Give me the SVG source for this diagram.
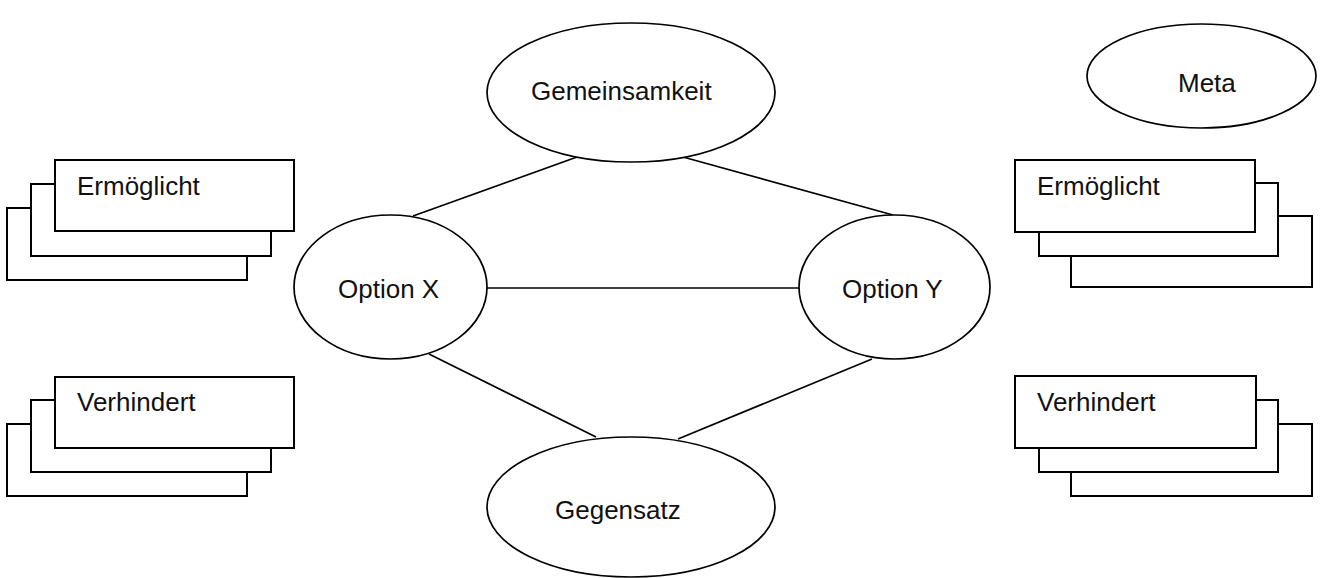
<svg xmlns="http://www.w3.org/2000/svg" width="1328" height="578" viewBox="0 0 1328 578">
<style>
.bg{fill:#fff}
.box{fill:#fff;stroke:#000;stroke-width:2}
.ell{fill:#fff;stroke:#000;stroke-width:1.7}
.con{stroke:#000;stroke-width:1.7;fill:none}
.t{font-family:"Liberation Sans",Arial,sans-serif;font-size:26px;fill:#111}
</style>
<rect class="bg" x="0" y="0" width="1328" height="578"/>
<g id="connectors">
<line class="con" x1="577" y1="157" x2="413" y2="216"/>
<line class="con" x1="683" y1="157" x2="893" y2="215"/>
<line class="con" x1="487" y1="288" x2="799" y2="288"/>
<line class="con" x1="429" y1="354" x2="596" y2="437"/>
<line class="con" x1="872" y1="359" x2="678" y2="439"/>
</g>
<g id="gemeinsamkeit">
<ellipse class="ell" cx="631" cy="92.5" rx="144" ry="69.5"/>
<text class="t" x="531" y="100">Gemeinsamkeit</text>
</g>
<g id="optionX">
<ellipse class="ell" cx="390.5" cy="287" rx="96.5" ry="72"/>
<text class="t" x="338" y="298">Option X</text>
</g>
<g id="optionY">
<ellipse class="ell" cx="894.5" cy="287" rx="95.5" ry="72"/>
<text class="t" x="842" y="298">Option Y</text>
</g>
<g id="gegensatz">
<ellipse class="ell" cx="631" cy="507" rx="144" ry="70"/>
<text class="t" x="555" y="519">Gegensatz</text>
</g>
<g id="meta">
<ellipse class="ell" cx="1201.5" cy="76" rx="114.5" ry="52"/>
<text class="t" x="1178" y="92">Meta</text>
</g>
<g id="ermoeglicht-left">
<rect class="box" x="7" y="208" width="240" height="72"/>
<rect class="box" x="31" y="184" width="240" height="72"/>
<rect class="box" x="55" y="160" width="239" height="71"/>
<text class="t" x="77" y="195">Ermöglicht</text>
</g>
<g id="verhindert-left">
<rect class="box" x="7" y="424" width="240" height="72"/>
<rect class="box" x="31" y="400" width="240" height="72"/>
<rect class="box" x="55" y="377" width="239" height="71"/>
<text class="t" x="77" y="411">Verhindert</text>
</g>
<g id="ermoeglicht-right">
<rect class="box" x="1071" y="216" width="241" height="71"/>
<rect class="box" x="1039" y="183" width="239" height="73"/>
<rect class="box" x="1015" y="160" width="240" height="72"/>
<text class="t" x="1037" y="195">Ermöglicht</text>
</g>
<g id="verhindert-right">
<rect class="box" x="1071" y="424" width="241" height="72"/>
<rect class="box" x="1039" y="400" width="239" height="72"/>
<rect class="box" x="1015" y="376" width="241" height="72"/>
<text class="t" x="1037" y="411">Verhindert</text>
</g>
</svg>
